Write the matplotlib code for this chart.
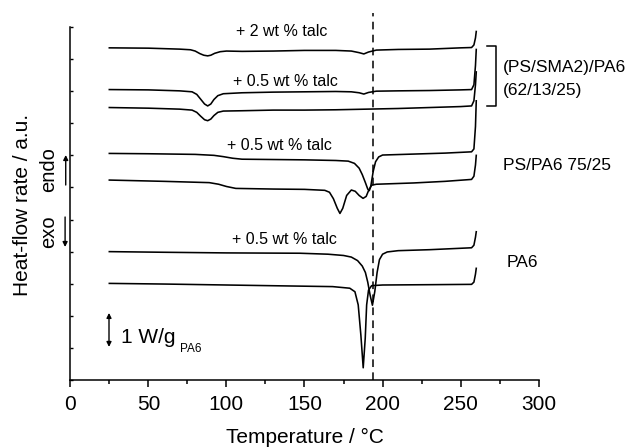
import matplotlib
matplotlib.use("Agg")
import matplotlib.pyplot as plt
from matplotlib.ticker import MultipleLocator

plt.rcParams['font.family'] = ['Liberation Sans', 'DejaVu Sans']

# ---- data (temperature in °C, heat flow in W/g, offset curves) ----
smaA_T = [25, 50, 70, 77, 80, 83, 85.5, 88, 90, 92.5, 96, 100, 110, 130, 150, 170, 180, 185, 188, 191, 196, 210, 230, 250, 257, 258.5, 259.5, 260]
smaA_H = [10.35, 10.34, 10.31, 10.29, 10.25, 10.17, 10.12, 10.10, 10.12, 10.18, 10.23, 10.25, 10.24, 10.25, 10.27, 10.27, 10.25, 10.20, 10.16, 10.22, 10.28, 10.30, 10.31, 10.35, 10.36, 10.44, 10.66, 10.86]

smaB_T = [25, 50, 70, 78, 81, 83.5, 86, 88, 90, 92, 94.5, 98, 110, 130, 150, 170, 180, 185, 188, 191, 196, 210, 230, 250, 257, 258.5, 259.5, 260]
smaB_H = [9.05, 9.04, 9.01, 8.98, 8.90, 8.75, 8.60, 8.54, 8.60, 8.74, 8.86, 8.92, 8.95, 8.97, 8.98, 8.99, 8.98, 8.95, 8.91, 8.96, 9.00, 9.01, 9.02, 9.04, 9.05, 9.2, 9.8, 10.3]

smaC_T = [25, 50, 70, 78, 81, 83.5, 86, 88, 90, 92, 94.5, 98, 110, 130, 150, 170, 190, 210, 230, 250, 257, 258.5, 259.5, 260]
smaC_H = [8.49, 8.47, 8.44, 8.41, 8.34, 8.22, 8.11, 8.08, 8.13, 8.24, 8.34, 8.38, 8.39, 8.41, 8.41, 8.42, 8.44, 8.46, 8.49, 8.52, 8.54, 8.7, 9.2, 9.6]

psD_T = [25, 50, 80, 92, 98, 104, 110, 130, 150, 170, 178, 182, 185, 187, 189, 190.5, 191.5, 192.5, 194, 195.5, 197.5, 200, 220, 240, 257, 258.5, 259.5, 260]
psD_H = [7.06, 7.05, 7.03, 7.00, 6.96, 6.91, 6.88, 6.87, 6.86, 6.84, 6.82, 6.75, 6.60, 6.40, 6.15, 5.95, 5.90, 6.05, 6.50, 6.80, 6.95, 7.01, 7.04, 7.07, 7.11, 7.2, 7.9, 8.7]

psE_T = [25, 60, 89, 95, 100, 106, 130, 150, 163, 166, 168.5, 171, 172.7, 174.5, 177, 180, 182.5, 185, 187.5, 189.5, 191, 193, 196, 220, 240, 257, 258.5, 259.5, 260]
psE_H = [6.23, 6.19, 6.15, 6.10, 6.03, 5.97, 5.95, 5.94, 5.91, 5.85, 5.65, 5.35, 5.19, 5.35, 5.75, 5.92, 5.88, 5.75, 5.66, 5.72, 5.90, 6.07, 6.10, 6.14, 6.19, 6.25, 6.35, 6.7, 7.0]

paF_T = [25, 60, 100, 147, 165, 175, 180, 184, 187, 189, 190.5, 192, 193.5, 195, 196.5, 198, 200, 203, 210, 230, 257, 258.5, 259.5, 260]
paF_H = [4.00, 3.98, 3.96, 3.95, 3.92, 3.88, 3.83, 3.72, 3.55, 3.35, 3.05, 2.65, 2.33, 2.75, 3.35, 3.75, 3.92, 3.99, 4.03, 4.06, 4.12, 4.2, 4.45, 4.62]

paG_T = [25, 60, 100, 140, 168, 179, 182.3, 184.4, 186.1, 187.6, 188.9, 189.8, 191, 193, 200, 230, 257, 258.5, 259.5, 260]
paG_H = [3.01, 2.99, 2.96, 2.93, 2.91, 2.86, 2.75, 2.34, 1.40, 0.38, 1.30, 2.34, 2.80, 2.94, 2.96, 2.97, 2.98, 3.05, 3.3, 3.48]

curves = [(smaA_T, smaA_H), (smaB_T, smaB_H), (smaC_T, smaC_H),
          (psD_T, psD_H), (psE_T, psE_H), (paF_T, paF_H), (paG_T, paG_H)]

talc_labels = ["+ 2 wt % talc", "+ 0.5 wt % talc", "+ 0.5 wt % talc", "+ 0.5 wt % talc"]
talc_pos_T = [135.6, 137.5, 134.1, 136.9]
talc_pos_H = [10.85, 9.30, 7.30, 4.39]

tm_line = 194

fig = plt.figure(figsize=(6.32, 4.48), dpi=100)
ax = fig.add_axes([0.1112, 0.1518, 0.7412, 0.8202])

for T, H in curves:
    ax.plot(T, H, color='black', lw=1.15, solid_joinstyle='round')

ax.axvline(tm_line, color='black', lw=1.1, ls=(0, (5, 3.5)))

for s, x, y in zip(talc_labels, talc_pos_T, talc_pos_H):
    ax.text(x, y, s, ha='center', va='center', fontsize=11.5)

# bracket for (PS/SMA2)/PA6 group
ax.plot([266.7, 272.7, 272.7, 266.7], [10.41, 10.41, 8.54, 8.54], color='black', lw=1.1)
ax.text(277.3, 9.73, "(PS/SMA2)/PA6", ha='left', va='center', fontsize=12.5)
ax.text(277.3, 9.02, "(62/13/25)", ha='left', va='center', fontsize=12.5)
ax.text(277.3, 6.67, "PS/PA6 75/25", ha='left', va='center', fontsize=12.5)
ax.text(279.5, 3.67, "PA6", ha='left', va='center', fontsize=12.5)

# scale bar
ax.annotate("", xy=(24.8, 2.09), xytext=(24.8, 1.03),
            arrowprops=dict(arrowstyle='<|-|>', color='black', lw=1.0,
                            mutation_scale=7, shrinkA=0, shrinkB=0))
ax.text(32.3, 1.33, "1 W/g", ha='left', va='center', fontsize=15)
ax.text(70.3, 0.97, "PA6", ha='left', va='center', fontsize=8.5)

ax.set_xlim(0, 300)
ax.set_ylim(0, 11.45)
ax.spines['top'].set_visible(False)
ax.spines['right'].set_visible(False)
ax.spines['left'].set_bounds(0, 11)
ax.spines['left'].set_linewidth(1.1)
ax.spines['bottom'].set_linewidth(1.1)

ax.xaxis.set_major_locator(MultipleLocator(50))
ax.xaxis.set_minor_locator(MultipleLocator(25))
ax.set_yticks(range(0, 12))
ax.set_yticklabels([])
ax.tick_params(axis='x', which='major', direction='out', length=5, width=1.1, labelsize=15, pad=6)
ax.tick_params(axis='x', which='minor', direction='out', length=3, width=1.1)
ax.tick_params(axis='y', which='major', direction='in', length=2.5, width=1.0)

ax.set_xlabel("Temperature / °C", fontsize=15, labelpad=10)

fig.text(0.036, 0.5424, "Heat-flow rate / a.u.", rotation=90, ha='center', va='center', fontsize=15)
fig.text(0.0765, 0.6205, "endo", rotation=90, ha='center', va='center', fontsize=14.5)
fig.text(0.0765, 0.482, "exo", rotation=90, ha='center', va='center', fontsize=14.5)
ax.annotate("", xy=(0.104, 1 - 155 / 448), xytext=(0.104, 1 - 185 / 448),
            xycoords='figure fraction', textcoords='figure fraction',
            arrowprops=dict(arrowstyle='-|>', color='black', lw=1.0, mutation_scale=7,
                            shrinkA=0, shrinkB=0), annotation_clip=False)
ax.annotate("", xy=(0.103, 1 - 247 / 448), xytext=(0.103, 1 - 217 / 448),
            xycoords='figure fraction', textcoords='figure fraction',
            arrowprops=dict(arrowstyle='-|>', color='black', lw=1.0, mutation_scale=7,
                            shrinkA=0, shrinkB=0), annotation_clip=False)

fig.savefig("out.png", dpi=100)
